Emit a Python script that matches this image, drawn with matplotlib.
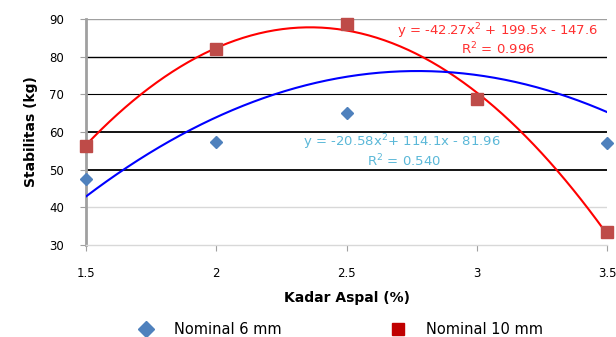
import numpy as np
import matplotlib
matplotlib.use("Agg")
import matplotlib.pyplot as plt
from matplotlib.lines import Line2D

x_ticks = [1.5, 2, 2.5, 3, 3.5]
x_tick_labels = ["1.5", "2", "2.5", "3", "3.5"]
y_ticks = [30, 40, 50, 60, 70, 80, 90]

x6 = [1.5, 2.0, 2.5, 3.5]
y6 = [47.4, 57.3, 65.1, 57.1]
x10 = [1.5, 2.0, 2.5, 3.0, 3.5]
y10 = [56.4, 82.0, 88.8, 68.8, 33.4]

coef6 = [-20.58, 114.1, -81.96]
coef10 = [-42.27, 199.5, -147.6]
eq6 = "y = -20.58x$^2$+ 114.1x - 81.96"
r6 = "R$^2$ = 0.540"
eq10 = "y = -42.27x$^2$ + 199.5x - 147.6"
r10 = "R$^2$ = 0.996"

fig = plt.figure(figsize=(6.16, 3.37), dpi=100)
ax = fig.add_axes([0.1396, 0.273, 0.846, 0.6706])
ax.set_xlim(1.5, 3.5)
ax.set_ylim(30, 90)

grid_styles = {90: ("#a0a0a0", 1.0), 80: ("#000000", 1.0), 70: ("#000000", 0.8),
               60: ("#000000", 1.3), 50: ("#000000", 1.3), 40: ("#d8d8d8", 1.0)}
for yv, (c, lw) in grid_styles.items():
    ax.axhline(yv, color=c, lw=lw, zorder=1)

xs = np.linspace(1.5, 3.5, 200)
ax.plot(xs, np.polyval(coef10, xs), color="#ff0000", lw=1.5, zorder=3)
ax.plot(xs, np.polyval(coef6, xs), color="#0000ff", lw=1.5, zorder=3)

ax.plot(x6, y6, linestyle="none", marker="D", ms=6.5, color="#4f81bd", zorder=4, clip_on=False)
ax.plot(x10, y10, linestyle="none", marker="s", ms=9, color="#be4b48", zorder=4, clip_on=False)

ax.text(3.08, 86.8, eq10, color="#ff3030", fontsize=9.5, ha="center", va="center", zorder=5)
ax.text(3.08, 82.0, r10, color="#ff3030", fontsize=9.5, ha="center", va="center", zorder=5)
ax.text(2.713, 57.3, eq6, color="#5bb8d8", fontsize=9.5, ha="center", va="center", zorder=5)
ax.text(2.72, 52.4, r6, color="#5bb8d8", fontsize=9.5, ha="center", va="center", zorder=5)

for s in ["top", "right"]:
    ax.spines[s].set_visible(False)
ax.spines["left"].set_color("#a0a0a0")
ax.spines["left"].set_linewidth(2)
ax.spines["bottom"].set_color("#d8d8d8")
ax.spines["bottom"].set_linewidth(1)

ax.set_xticks(x_ticks)
ax.set_xticklabels(x_tick_labels)
ax.set_yticks(y_ticks)
ax.tick_params(axis="both", labelsize=8.5, color="#a0a0a0", length=4)
ax.tick_params(axis="x", pad=12)
ax.tick_params(axis="y", pad=12)

ax.set_xlabel("Kadar Aspal (%)", fontsize=10, fontweight="bold", labelpad=8)
ax.set_ylabel("Stabilitas (kg)", fontsize=10, fontweight="bold", labelpad=8)

handles = [Line2D([], [], linestyle="none", marker="D", ms=8, color="#4f81bd"),
           Line2D([], [], linestyle="none", marker="s", ms=9, color="#c00000")]
fig.legend(handles, ["Nominal 6 mm", "Nominal 10 mm"], loc="center",
           bbox_to_anchor=(0.547, 0.022), ncol=2, frameon=False, fontsize=10.5,
           columnspacing=7.0, handletextpad=0.9)

fig.savefig("out.png", dpi=100)
